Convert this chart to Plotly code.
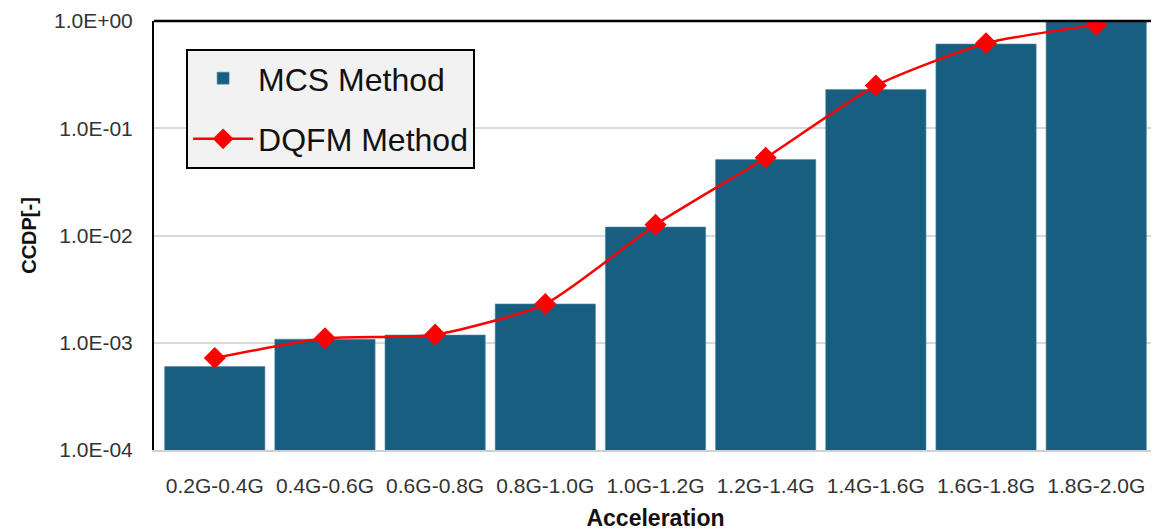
import plotly.graph_objects as go

categories = ["0.2G-0.4G", "0.4G-0.6G", "0.6G-0.8G", "0.8G-1.0G", "1.0G-1.2G",
              "1.2G-1.4G", "1.4G-1.6G", "1.6G-1.8G", "1.8G-2.0G"]
mcs_values = [6.0e-4, 1.08e-3, 1.18e-3, 2.3e-3, 1.2e-2, 5.1e-2, 0.23, 0.61, 1.0]
dqfm_values = [7.2e-4, 1.1e-3, 1.19e-3, 2.3e-3, 1.26e-2, 5.3e-2, 0.25, 0.62, 0.92]
y_tickvals = [1e-4, 1e-3, 1e-2, 1e-1, 1e0]
y_ticktext = ["1.0E-04", "1.0E-03", "1.0E-02", "1.0E-01", "1.0E+00"]

fig = go.Figure()
fig.add_trace(go.Bar(
    x=categories, y=mcs_values, name="MCS Method", legendgroup="a",
    marker=dict(color="#175e80", line=dict(color="#4f8aa6", width=0.6)),
))
fig.add_trace(go.Scatter(
    x=categories, y=dqfm_values, name="DQFM Method", legendgroup="b",
    mode="lines+markers",
    line=dict(color="#ff0000", width=2.5, shape="spline", smoothing=0.6),
    marker=dict(symbol="diamond", size=17, color="#ff0000"),
))

# page body has an 8px default margin; size the figure so the plot lands where the reference has it
fig.update_layout(
    width=1151, height=523,
    margin=dict(l=146, r=2, t=13, b=81),
    plot_bgcolor="white", paper_bgcolor="white",
    bargap=0.09,
    showlegend=True,
    legend=dict(
        x=0.032, y=0.935, xanchor="left", yanchor="top",
        bgcolor="#f2f2f2", bordercolor="black", borderwidth=2,
        font=dict(family="Liberation Sans, Arial, sans-serif", size=32, color="#111111"),
        itemwidth=60, traceorder="grouped", tracegroupgap=16,
    ),
    xaxis=dict(
        showgrid=False, showline=True, linecolor="#d0d0d0", linewidth=1.5,
        tickfont=dict(family="Liberation Sans Narrow, Arial Narrow, Liberation Sans, sans-serif",
                      size=21, color="#333333"),
        ticklabelstandoff=16,
        title=dict(text="<b>Acceleration</b>", standoff=19,
                   font=dict(family="Liberation Sans Narrow, Arial Narrow, Liberation Sans, sans-serif",
                             size=23, color="#111111")),
        automargin=False, mirror=False,
    ),
    yaxis=dict(
        type="log", range=[-4, 0],
        tickvals=y_tickvals, ticktext=y_ticktext,
        showgrid=True, gridcolor="#d9d9d9", gridwidth=1.5,
        showline=True, linecolor="black", linewidth=2,
        tickfont=dict(family="Liberation Sans, Arial, sans-serif", size=21, color="#333333"),
        ticklabelstandoff=15,
        title=dict(text="<b>CCDP[-]</b>", standoff=12,
                   font=dict(family="Liberation Sans, Arial, sans-serif", size=20, color="#111111")),
        automargin=False, zeroline=False,
    ),
    shapes=[
        dict(type="line", xref="paper", yref="paper", x0=0, x1=1, y0=1, y1=1,
             line=dict(color="black", width=2.5)),
        dict(type="line", xref="paper", yref="paper", x0=1, x1=1, y0=0, y1=1,
             line=dict(color="black", width=1)),
    ],
)

fig.write_html("out.html")
